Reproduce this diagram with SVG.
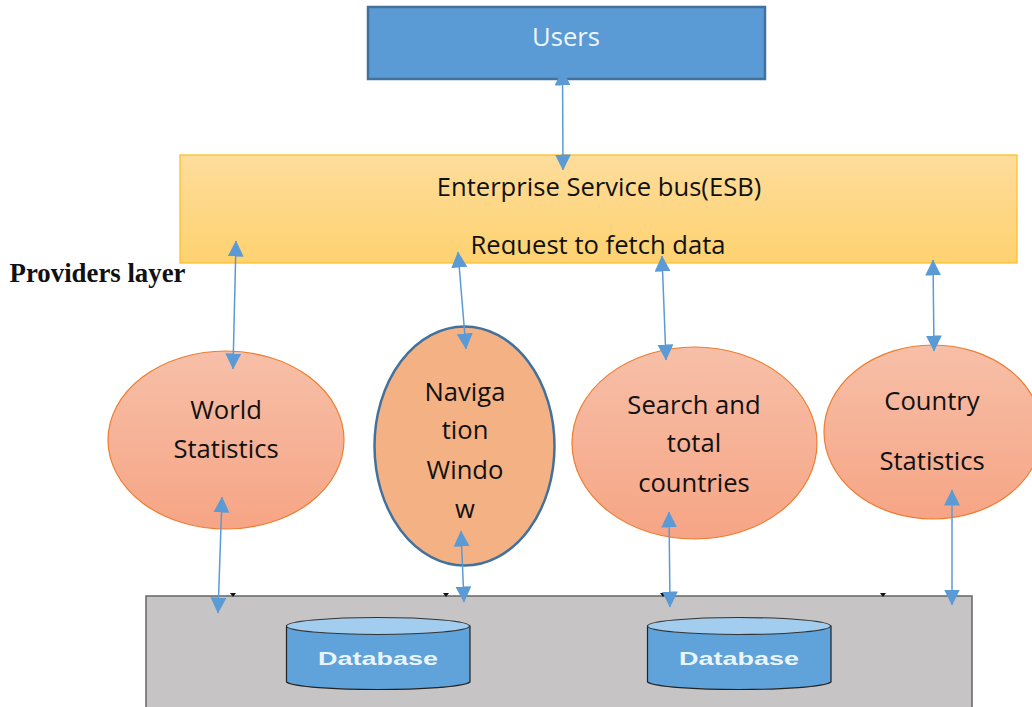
<svg xmlns="http://www.w3.org/2000/svg" width="1032" height="707" viewBox="0 0 1032 707">
<style>
text{font-family:"Open Sans","Noto Sans",sans-serif;font-size:25.6px;fill:#111;text-anchor:middle}
.e{fill:url(#og);stroke:#ed7d31;stroke-width:1.2}
.c{stroke:#5b9bd5;stroke-width:1.5;fill:none;marker-start:url(#a);marker-end:url(#a)}
.db{fill:#5fa3da;stroke:#222;stroke-width:1.2}
.top{fill:#a3cdee;stroke:#333;stroke-width:1.2}
.dbt{font-family:"Liberation Sans",Arial,sans-serif;font-size:18px;font-weight:bold;fill:#eaf4fc}
.t{fill:#111}
</style>
<defs>
<linearGradient id="og" x1="0" y1="0" x2="0" y2="1"><stop offset="0" stop-color="#f7bfa8"/><stop offset="1" stop-color="#f6a585"/></linearGradient>
<linearGradient id="yg" x1="0" y1="0" x2="0" y2="1"><stop offset="0" stop-color="#fedd9c"/><stop offset="1" stop-color="#fed270"/></linearGradient>
<marker id="a" markerUnits="userSpaceOnUse" markerWidth="16" markerHeight="17" refX="15.5" refY="8" orient="auto-start-reverse"><path d="M0 0L16 8L0 16Z" fill="#5b9bd5"/></marker>
<clipPath id="esbclip"><rect x="180" y="155" width="837" height="100"/></clipPath>
</defs>

<g id="users"><rect x="368" y="7" width="397" height="72" fill="#5b9bd5" stroke="#41719c" stroke-width="2.5"/><text x="566" y="46" style="fill:#eef5fb">Users</text></g>
<g id="esb"><rect x="180" y="155" width="837" height="108" fill="url(#yg)" stroke="#fcc02c" stroke-width="1.3"/><text x="599" y="196">Enterprise Service bus(ESB)</text><text x="598" y="254" clip-path="url(#esbclip)">Request to fetch data</text></g>
<g id="providers-label"><text x="97.500" y="282" style="font-family:'Liberation Serif',serif;font-size:26.800px;font-weight:bold">Providers layer</text></g>

<g id="data-layer">
<rect x="146" y="596" width="826" height="120" fill="#c6c4c5" stroke="#666" stroke-width="1.5"/>
<path class="t" d="M230 593h6l-3 4ZM443 593h6l-3 4ZM660 593h6l-3 4ZM880 593h6l-3 4Z"/>
</g>
<g id="database-1"><path class="db" d="M286.500 626V682C300 692 456 692 470 682V626Z"/><ellipse class="top" cx="378" cy="626" rx="91.500" ry="8.500"/><text class="dbt" x="378" y="665" textLength="120" lengthAdjust="spacingAndGlyphs">Database</text></g>
<g id="database-2"><path class="db" d="M647.500 626V682C661 692 817 692 831 682V626Z"/><ellipse class="top" cx="739" cy="626" rx="91.500" ry="8.500"/><text class="dbt" x="739" y="665" textLength="120" lengthAdjust="spacingAndGlyphs">Database</text></g>

<g id="world-statistics"><ellipse class="e" cx="226" cy="440" rx="118" ry="89"/><text x="226" y="419">World</text><text x="226" y="458">Statistics</text></g>
<g id="navigation-window"><ellipse cx="464.500" cy="446" rx="90" ry="119.500" fill="#f4b183" stroke="#41719c" stroke-width="2.500"/><text x="465" y="401">Naviga</text><text x="465" y="439">tion</text><text x="465" y="479">Windo</text><text x="465" y="518">w</text></g>
<g id="search-total"><ellipse class="e" cx="694.500" cy="443" rx="122.500" ry="96"/><text x="694" y="414">Search and</text><text x="694" y="452">total</text><text x="694" y="492">countries</text></g>
<g id="country-statistics"><ellipse class="e" cx="933" cy="432" rx="109" ry="87"/><text x="932" y="410">Country</text><text x="932" y="470">Statistics</text></g>

<g id="connectors">
<line class="c" x1="562.500" y1="70" x2="563" y2="170"/>
<line class="c" x1="236" y1="241" x2="233" y2="369"/>
<line class="c" x1="458" y1="252" x2="466" y2="349"/>
<line class="c" x1="662" y1="256" x2="666" y2="360"/>
<line class="c" x1="933" y1="260" x2="934" y2="351"/>
<line class="c" x1="222" y1="497" x2="218" y2="613"/>
<line class="c" x1="461" y1="531" x2="464" y2="602"/>
<line class="c" x1="669" y1="512" x2="670" y2="607"/>
<line class="c" x1="952" y1="490" x2="952" y2="605"/>
</g>
</svg>
